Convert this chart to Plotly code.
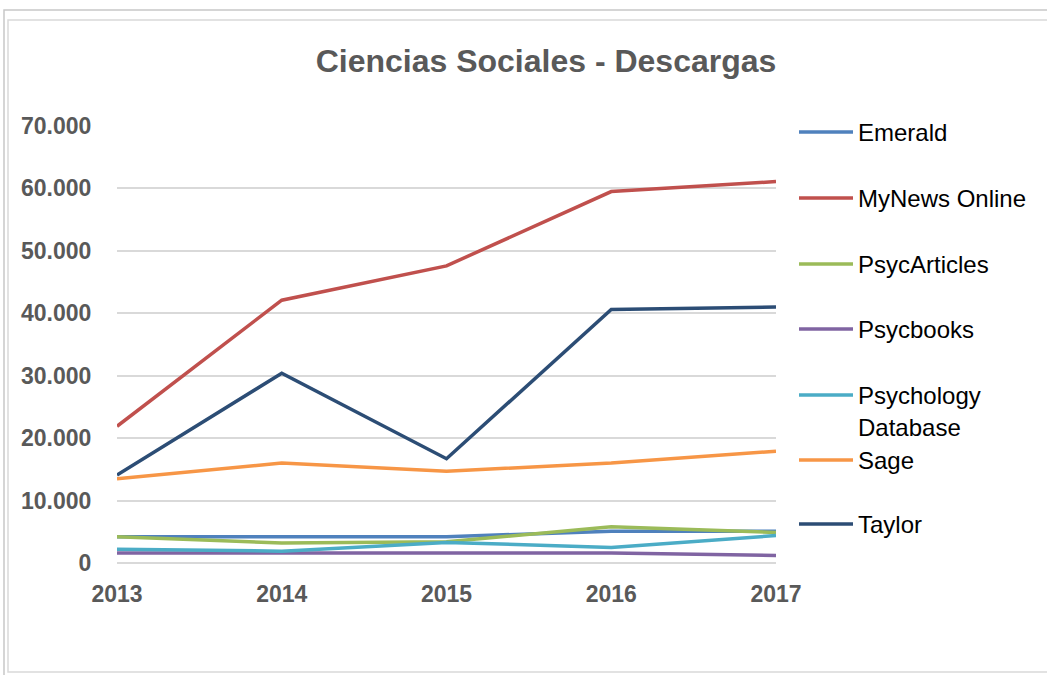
import plotly.graph_objects as go

years = [2013, 2014, 2015, 2016, 2017]
series_names = ["Emerald", "MyNews Online", "PsycArticles", "Psycbooks",
                "Psychology<br>Database", "Sage", "Taylor"]
emerald = [4200, 4200, 4200, 5100, 5100]
mynews = [21900, 42100, 47600, 59500, 61100]
psycarticles = [4200, 3200, 3400, 5800, 4900]
psycbooks = [1600, 1600, 1600, 1600, 1200]
psychdb = [2200, 1900, 3300, 2500, 4400]
sage = [13500, 16000, 14700, 16000, 17900]
taylor = [14100, 30400, 16700, 40600, 41000]
colors = ["#4F81BD", "#C0504D", "#9BBB59", "#8064A2", "#4BACC6", "#F79646", "#2C4D75"]
y_ticks = [0, 10000, 20000, 30000, 40000, 50000, 60000, 70000]

values = [emerald, mynews, psycarticles, psycbooks, psychdb, sage, taylor]

L, R, T, B = 117, 776, 126, 563
W, H = 1047, 675
def px(x):
    return (x - L) / (R - L)
def py(y):
    return (B - y) / (B - T)

FONT = "Liberation Sans, Arial, sans-serif"
legend_centers = [132, 198, 264, 329, 395, 460, 524]

fig = go.Figure()
legend_layouts = {}
for i, (name, vals, col) in enumerate(zip(series_names, values, colors)):
    lname = "legend" if i == 0 else f"legend{i+1}"
    fig.add_trace(go.Scatter(x=years, y=vals, mode="lines", name=name,
                             legend=lname,
                             line=dict(color=col, width=3.5)))
    legend_layouts[lname] = dict(
        x=px(794), xanchor="left", y=py(legend_centers[i] - 22), yanchor="top",
        font=dict(size=24, color="#000000", family=FONT),
        valign="top", itemwidth=54, bgcolor="rgba(0,0,0,0)")

shapes = [
    dict(type="rect", xref="paper", yref="paper", x0=px(4), x1=px(1120), y0=py(700), y1=py(10),
         line=dict(color="#C8C8C8", width=1.5), fillcolor="rgba(0,0,0,0)", layer="below"),
    dict(type="rect", xref="paper", yref="paper", x0=px(8), x1=px(1120), y0=py(672), y1=py(20),
         line=dict(color="#D9D9D9", width=1.5), fillcolor="rgba(0,0,0,0)", layer="below"),
]

fig.update_layout(
    width=W, height=H,
    margin=dict(l=L, r=W - R, t=T, b=H - B, pad=0),
    paper_bgcolor="white", plot_bgcolor="white",
    separators=",.",
    font=dict(family=FONT, color="#595959"),
    title=dict(text="Ciencias Sociales - Descargas",
               font=dict(size=32, color="#595959", family=FONT, weight="bold"),
               xref="paper", x=px(546), xanchor="center",
               yref="container", y=1 - 61 / H, yanchor="middle"),
    xaxis=dict(range=[2013, 2017], tickvals=years, ticktext=[str(y) for y in years],
               showgrid=False, zeroline=False, showline=False,
               ticks="outside", ticklen=10, tickcolor="rgba(0,0,0,0)",
               tickfont=dict(size=23, color="#595959", family=FONT, weight="bold"),
               fixedrange=True),
    yaxis=dict(range=[0, 70000], tickvals=y_ticks, tickformat=",d",
               showgrid=True, gridcolor="#D9D9D9", gridwidth=1.5,
               zeroline=True, zerolinecolor="#D9D9D9", zerolinewidth=1.5, showline=False,
               ticks="outside", ticklen=20, tickcolor="rgba(0,0,0,0)",
               tickfont=dict(size=23, color="#595959", family=FONT, weight="bold"),
               fixedrange=True),
    shapes=shapes,
    showlegend=True,
    **legend_layouts,
)
fig.update_traces(cliponaxis=False)

fig.write_html("out.html", config={"displayModeBar": False},
               post_script="document.body.style.margin='0px';")
